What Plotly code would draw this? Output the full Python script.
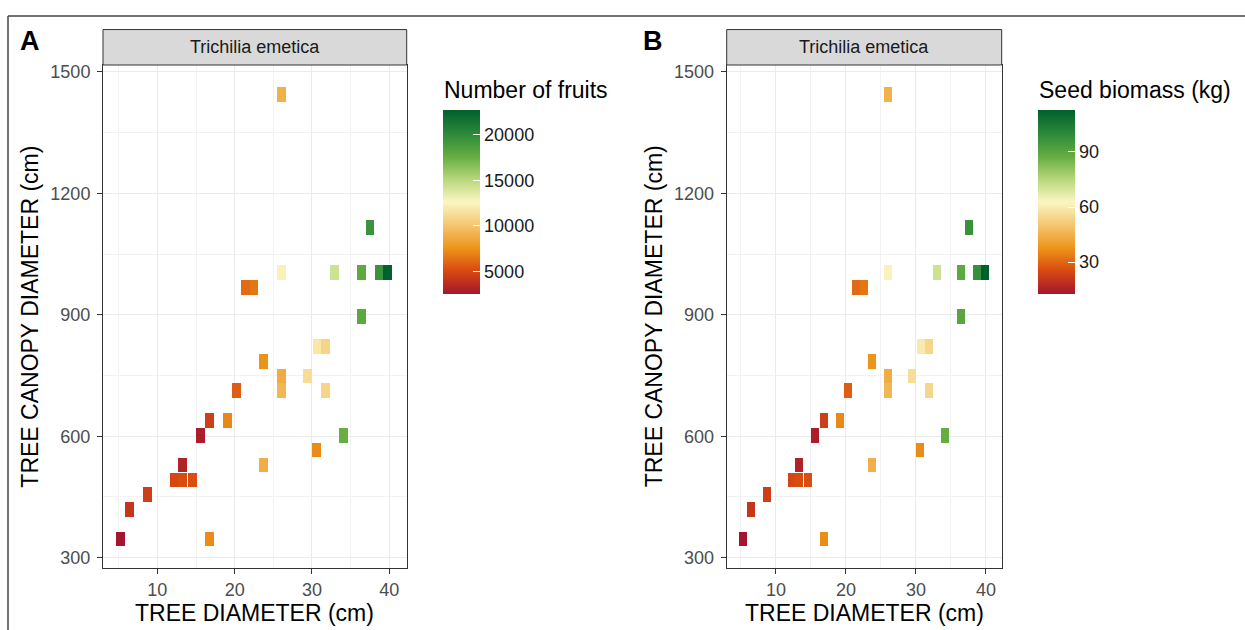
import plotly.graph_objects as go

# ---------------- data ----------------
tree_diameter = [5.2, 6.4, 8.7, 12.2, 13.3, 14.5, 13.3, 15.6, 16.8, 19.1, 16.8, 20.2,
                 23.7, 23.7, 21.4, 22.5, 26.0, 26.0, 26.0, 26.0, 29.4, 30.7, 31.8,
                 31.8, 30.6, 32.9, 34.1, 36.4, 36.4, 37.5, 38.7, 39.8]
canopy_diameter = [346, 419, 456, 492, 492, 492, 529, 602, 639, 639, 346, 712,
                   785, 529, 968, 968, 749, 712, 1444, 1005, 749, 822, 822,
                   712, 566, 1005, 602, 895, 1005, 1115, 1005, 1005]
number_of_fruits = [2500, 4100, 4500, 4900, 5100, 5200, 3100, 2800, 4500, 7100, 7200, 5700,
                    7500, 8800, 6100, 6500, 8700, 9200, 8900, 12300, 11200, 11800, 10800,
                    10800, 7200, 14200, 17500, 18000, 17800, 19400, 19500, 22600]
seed_biomass_kg = [12.5, 20.5, 22.5, 24.5, 25.5, 26.0, 15.5, 14.0, 22.5, 35.5, 36.0, 28.5,
                   37.5, 44.0, 30.5, 32.5, 43.5, 46.0, 44.5, 61.5, 56.0, 59.0, 54.0,
                   54.0, 36.0, 71.0, 87.5, 90.0, 89.0, 97.0, 97.5, 113.0]
fruit_ticks = [5000, 10000, 15000, 20000]
biomass_ticks = [30, 60, 90]
x_ticks = [10, 20, 30, 40]
y_ticks = [300, 600, 900, 1200, 1500]
species = "Trichilia emetica"

# ---------------- styling ----------------
W, H = 1245, 630
TILE_W = 1.15
TILE_H = 36.6
FONT = "Liberation Sans, Arial, sans-serif"
colorscale = [
    [0.0, "#a4162f"], [0.127, "#d84a10"], [0.246, "#ec9318"], [0.371, "#f4c56e"],
    [0.5, "#fbf6c2"], [0.621, "#b8d87c"], [0.746, "#66ad42"], [0.866, "#2e8b3a"],
    [1.0, "#00602c"],
]


def px(x):
    return x / W


def py(y):
    return 1 - y / H


PLOT_TOP, PLOT_BOT = 62.3, 568.0
STRIP_TOP = 26.7
panels = [
    dict(left=103.0, right=406.7, vals=number_of_fruits, cmin=2478, cmax=22675,
         ticks=fruit_ticks, title="Number of fruits", cb_left=442.7, letter="A", letter_x=30),
    dict(left=726.7, right=1001.7, vals=seed_biomass_kg, cmin=12.4, cmax=112.7,
         ticks=biomass_ticks, title="Seed biomass (kg)", cb_left=1037.5, letter="B", letter_x=653),
]

fig = go.Figure()
shapes = []
annotations = []

for i, p in enumerate(panels):
    ax = "" if i == 0 else str(i + 1)
    base = [c - TILE_H / 2 for c in canopy_diameter]
    fig.add_trace(go.Bar(
        x=tree_diameter, y=[TILE_H] * len(canopy_diameter), base=base, width=TILE_W,
        xaxis="x" + ax, yaxis="y" + ax,
        marker=dict(
            color=p["vals"], colorscale=colorscale, cmin=p["cmin"], cmax=p["cmax"],
            line=dict(width=0),
            showscale=True,
            colorbar=dict(
                x=px(p["cb_left"]), xanchor="left", xref="paper",
                y=py((108.3 + 292.3) / 2), yanchor="middle", yref="paper",
                thickness=37, thicknessmode="pixels", len=184, lenmode="pixels",
                outlinewidth=0, xpad=0, ypad=0,
                tickvals=p["ticks"], tickformat="d", tickprefix="\u00a0",
                ticks="inside", tickcolor="white", ticklen=7, tickwidth=1,
                tickfont=dict(family=FONT, size=18, color="#1a1a1a"),
            ),
        ),
        showlegend=False, hoverinfo="skip",
    ))
    dom_x = [px(p["left"]), px(p["right"])]
    axis_common = dict(
        showline=True, linecolor="#333333", linewidth=1, mirror=True,
        ticks="outside", ticklen=5, tickcolor="#333333", tickwidth=1,
        tickfont=dict(family=FONT, size=18, color="#4d4d4d"),
        showgrid=True, gridcolor="#ebebeb", gridwidth=1.2, zeroline=False,
    )
    fig.update_layout(**{
        "xaxis" + ax: dict(domain=dom_x, range=[2.97, 42.25], tickvals=x_ticks,
                           anchor="y" + ax,
                           minor=dict(dtick=5, tick0=0, showgrid=True, gridcolor="#f2f2f2",
                                      gridwidth=0.8, ticks=""),
                           **axis_common),
        "yaxis" + ax: dict(domain=[py(PLOT_BOT), py(PLOT_TOP)], range=[273.7, 1517.2],
                           tickvals=y_ticks, anchor="x" + ax, ticklabelstandoff=3,
                           minor=dict(dtick=150, tick0=0, showgrid=True, gridcolor="#f2f2f2",
                                      gridwidth=0.8, ticks=""),
                           **axis_common),
    })
    # facet strip
    shapes.append(dict(type="rect", xref="paper", yref="paper",
                       x0=px(p["left"]), x1=px(p["right"]), y0=py(PLOT_TOP), y1=py(STRIP_TOP),
                       fillcolor="#d9d9d9", line=dict(color="#333333", width=1), layer="above"))
    annotations.append(dict(text=species, xref="paper", yref="paper",
                            x=px((p["left"] + p["right"]) / 2), y=py((STRIP_TOP + PLOT_TOP) / 2),
                            xanchor="center", yanchor="middle", showarrow=False,
                            font=dict(family=FONT, size=18, color="#1a1a1a")))
    # axis titles
    annotations.append(dict(text="TREE DIAMETER (cm)", xref="paper", yref="paper",
                            x=px((p["left"] + p["right"]) / 2), y=py(613),
                            xanchor="center", yanchor="middle", showarrow=False,
                            font=dict(family=FONT, size=23, color="#000000")))
    annotations.append(dict(text="TREE CANOPY DIAMETER (cm)", xref="paper", yref="paper",
                            x=px(p["left"] - 73), y=py((PLOT_TOP + PLOT_BOT) / 2), textangle=-90,
                            xanchor="center", yanchor="middle", showarrow=False,
                            font=dict(family=FONT, size=23, color="#000000")))
    # legend title
    annotations.append(dict(text=p["title"], xref="paper", yref="paper",
                            x=px(p["cb_left"] - 1), y=py(87), xanchor="left", yanchor="middle",
                            showarrow=False, font=dict(family=FONT, size=23, color="#000000")))
    # panel letter
    annotations.append(dict(text="<b>" + p["letter"] + "</b>", xref="paper", yref="paper",
                            x=px(p["letter_x"]), y=py(38), xanchor="center", yanchor="middle",
                            showarrow=False, font=dict(family=FONT, size=27, color="#000000")))

# outer frame
shapes.append(dict(type="line", xref="paper", yref="paper", x0=px(8), x1=1.01, y0=py(13), y1=py(13),
                   line=dict(color="#444444", width=1.5)))
shapes.append(dict(type="line", xref="paper", yref="paper", x0=px(8), x1=px(8), y0=py(13), y1=-0.01,
                   line=dict(color="#444444", width=1.5)))

fig.update_layout(
    width=W, height=H, margin=dict(l=0, r=0, t=0, b=0),
    paper_bgcolor="white", plot_bgcolor="white",
    barmode="overlay", bargap=0,
    shapes=shapes, annotations=annotations,
    font=dict(family=FONT),
)

fig.write_html("out.html")
